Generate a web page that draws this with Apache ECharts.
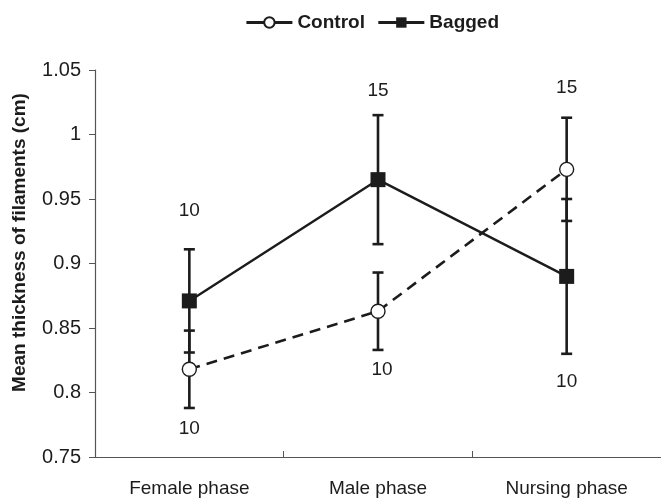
<!DOCTYPE html>
<html>
<head>
<meta charset="utf-8">
<script src="https://cdn.jsdelivr.net/npm/echarts@6/dist/echarts.min.js"></script>
<style>
html,body{margin:0;padding:0;background:#fff;}
#chart{width:661px;height:501px;}
</style>
</head>
<body>
<div id="chart"></div>
<script>
const categories = ['Female phase', 'Male phase', 'Nursing phase'];
const controlMean = [0.818, 0.863, 0.973];
const controlErr = [0.030, 0.030, 0.040];
const baggedMean = [0.871, 0.965, 0.890];
const baggedErr = [0.040, 0.050, 0.060];
const nAbove = ['10', '15', '15'];
const nBelow = ['10', '10', '10'];
const yMin = 0.75, yMax = 1.05, yStep = 0.05;

// label pixel gaps (style)
const gapAbove = [39, 24, 30];
const gapBelow = [21, 20, 28];
const dxBelow = [0, 4, 0];

const FONT = 'Liberation Sans';
const INK = '#1c1c1c';

const chart = echarts.init(document.getElementById('chart'));

function errData(mean, err) {
  return mean.map((m, i) => [i, m - err[i], m + err[i]]);
}

const errRender = function (params, api) {
  const x = api.value(0);
  const lo = api.coord([x, api.value(1)]);
  const hi = api.coord([x, api.value(2)]);
  const w = 5.5;
  const st = { stroke: INK, lineWidth: 2.6 };
  return {
    type: 'group',
    children: [
      { type: 'line', shape: { x1: lo[0], y1: lo[1], x2: hi[0], y2: hi[1] }, style: st },
      { type: 'line', shape: { x1: lo[0] - w, y1: lo[1], x2: lo[0] + w, y2: lo[1] }, style: st },
      { type: 'line', shape: { x1: hi[0] - w, y1: hi[1], x2: hi[0] + w, y2: hi[1] }, style: st }
    ]
  };
};

const labelData = categories.map((c, i) => {
  const top = Math.max(controlMean[i] + controlErr[i], baggedMean[i] + baggedErr[i]);
  const bot = Math.min(controlMean[i] - controlErr[i], baggedMean[i] - baggedErr[i]);
  return [i, top, bot];
});

const labelRender = function (params, api) {
  const i = params.dataIndex;
  const x = api.value(0);
  const t = api.coord([x, api.value(1)]);
  const b = api.coord([x, api.value(2)]);
  const ts = { fill: INK, font: '19px "' + FONT + '"', textAlign: 'center', textVerticalAlign: 'middle' };
  return {
    type: 'group',
    children: [
      { type: 'text', style: Object.assign({ text: nAbove[i], x: t[0], y: t[1] - gapAbove[i] }, ts) },
      { type: 'text', style: Object.assign({ text: nBelow[i], x: b[0] + dxBelow[i], y: b[1] + gapBelow[i] }, ts) }
    ]
  };
};

chart.setOption({
  animation: false,
  backgroundColor: '#fff',
  textStyle: { fontFamily: FONT, color: INK },
  legend: {
    top: 8,
    left: 240,
    itemWidth: 46,
    itemHeight: 13,
    itemGap: 12,
    lineStyle: { type: 'solid', width: 2.8, color: INK },
    textStyle: { fontFamily: FONT, fontWeight: 'bold', fontSize: 19, color: INK },
    data: [
      { name: 'Control' },
      { name: 'Bagged' }
    ]
  },
  grid: { left: 95, right: 0, top: 70, bottom: 44, containLabel: false },
  xAxis: {
    type: 'category',
    data: categories,
    boundaryGap: true,
    axisLine: { lineStyle: { color: '#555', width: 1.2 } },
    axisTick: { show: true, inside: true, length: 6, alignWithLabel: false, lineStyle: { color: '#555' } },
    axisLabel: { fontSize: 19, color: INK, margin: 22, fontFamily: FONT }
  },
  yAxis: {
    type: 'value',
    min: yMin,
    max: yMax,
    interval: yStep,
    name: 'Mean thickness of filaments (cm)',
    nameLocation: 'middle',
    nameGap: 66,
    nameRotate: 90,
    nameTextStyle: { fontSize: 19, fontWeight: 'bold', color: INK, fontFamily: FONT, padding: [0, 0, 0, 42] },
    splitLine: { show: false },
    axisLine: { show: true, lineStyle: { color: '#555', width: 1.2 } },
    axisTick: { show: true, length: 6, lineStyle: { color: '#555' } },
    axisLabel: {
      fontSize: 20, color: INK, margin: 14, fontFamily: FONT,
      formatter: v => String(+v.toFixed(2))
    }
  },
  series: [
    {
      type: 'custom', name: 'errC', renderItem: errRender, data: errData(controlMean, controlErr), z: 1, silent: true
    },
    {
      type: 'custom', name: 'errB', renderItem: errRender, data: errData(baggedMean, baggedErr), z: 1, silent: true
    },
    {
      type: 'line', name: 'Control', data: controlMean, z: 3,
      symbol: 'circle', symbolSize: 14,
      lineStyle: { color: INK, width: 2.6, type: [11, 7] },
      itemStyle: { color: '#fff', borderColor: INK, borderWidth: 1.4 }
    },
    {
      type: 'line', name: 'Bagged', data: baggedMean, z: 4,
      symbol: 'rect', symbolSize: 15,
      lineStyle: { color: INK, width: 2.4, type: 'solid' },
      itemStyle: { color: INK, borderColor: INK, borderWidth: 0 }
    },
    {
      type: 'custom', name: 'nlabels', renderItem: labelRender, data: labelData, z: 5, silent: true
    }
  ]
});
</script>
</body>
</html>
